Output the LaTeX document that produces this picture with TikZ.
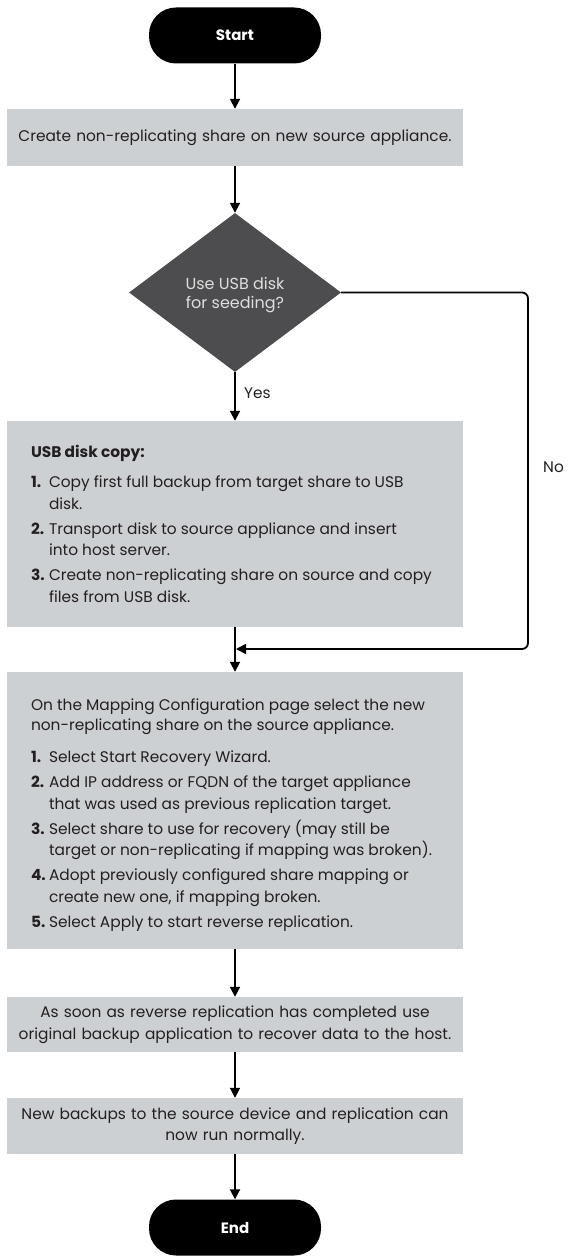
\documentclass[tikz,border=0pt]{standalone}
\usepackage{fontspec}
\setmainfont{Poppins}
\usetikzlibrary{shapes.geometric,arrows.meta}
\definecolor{boxgray}{RGB}{205,208,211}
\definecolor{diagray}{RGB}{77,77,79}
\definecolor{txt}{RGB}{35,31,32}
\definecolor{diatxt}{RGB}{222,222,222}
\begin{document}
\begin{tikzpicture}[x=1pt,y=-1pt,
  box/.style={fill=boxgray, minimum width=456pt, text=txt, inner sep=0pt, font=\fontsize{15.4}{21.5}\selectfont},
  boxtext/.style={text=txt, inner sep=0pt, align=left, font=\fontsize{15.4}{21.5}\selectfont},
  pill/.style={fill=black, rounded corners=27pt, minimum width=172pt, minimum height=56pt, text=white, inner sep=0pt, font=\fontsize{15}{18}\selectfont\bfseries},
  arr/.style={line width=1.8pt, draw=black, -{Triangle[length=10pt,width=10pt]}},
  lbl/.style={text=txt, inner sep=0pt, font=\fontsize{15.4}{18}\selectfont},
]
\useasboundingbox (0,0) rectangle (567,1257);
\node[pill] (start) at (235,35.5) {Start};
\node[box, minimum height=57pt, text width=456pt, align=center] (b1) at (235,137.5) {Create non-replicating share on new source appliance.};
\node[diamond, fill=diagray, minimum width=212pt, minimum height=159pt, inner sep=0pt, aspect=1.33] (dia) at (235,292.5) {};
\node[text=diatxt, align=center, inner sep=0pt, font=\fontsize{16}{19}\selectfont] (diat) at ([yshift=-3pt]dia.center) {Use USB disk\\for seeding?};
\node[lbl, anchor=west] (yes) at (244,393) {Yes};
\node[box, minimum height=206pt] (b2) at (235,524) {};
\node[boxtext, anchor=west] (b2t) at ([xshift=24pt,yshift=-1.5pt]b2.west) {\begin{tabular}{@{}p{18pt}@{}l@{}}
\multicolumn{2}{@{}l@{}}{\bfseries USB disk copy:}\\[9pt]
\bfseries 1. & Copy first full backup from target share to USB\\
 & disk.\\[3.5pt]
\bfseries 2. & Transport disk to source appliance and insert\\
 & into host server.\\[3.5pt]
\bfseries 3. & Create non-replicating share on source and copy\\
 & files from USB disk.
\end{tabular}};
\node[box, minimum height=277pt] (b3) at (235,810.5) {};
\node[boxtext, anchor=west] (b3t) at ([xshift=24pt,yshift=-4pt]b3.west) {\begin{tabular}{@{}p{18pt}@{}l@{}}
\multicolumn{2}{@{}l@{}}{On the Mapping Configuration page select the new}\\[-1pt]
\multicolumn{2}{@{}l@{}}{non-replicating share on the source appliance.}\\[10.5pt]
\bfseries 1. & Select Start Recovery Wizard.\\[3.5pt]
\bfseries 2. & Add IP address or FQDN of the target appliance\\
 & that was used as previous replication target.\\[3.5pt]
\bfseries 3. & Select share to use for recovery (may still be\\
 & target or non-replicating if mapping was broken).\\[3.5pt]
\bfseries 4. & Adopt previously configured share mapping or\\
 & create new one, if mapping broken.\\[3.5pt]
\bfseries 5. & Select Apply to start reverse replication.
\end{tabular}};
\node[box, minimum height=55pt, text width=456pt, align=center] (b4) at (235,1024.5) {As soon as reverse replication has completed use\\original backup application to recover data to the host.};
\node[box, minimum height=56pt, text width=456pt, align=center] (b5) at (235,1126) {New backups to the source device and replication can\\now run normally.};
\node[pill] (end) at (235,1227.5) {End};
\node[lbl, anchor=west] (no) at (543,467) {No};
\coordinate (nocorner) at (528,292.5);
\coordinate (merge) at (236,649);
\draw[arr] (start) -- (b1);
\draw[arr] (b1) -- (dia);
\draw[arr] (dia) -- (b2);
\draw[arr] (b2) -- (b3);
\draw[arr] (b3) -- (b4);
\draw[arr] (b4) -- (b5);
\draw[arr] (b5) -- (end);
\draw[arr, rounded corners=6pt] (dia.east) -- (nocorner) -- (nocorner |- merge) -- (merge);
\end{tikzpicture}
\end{document}
